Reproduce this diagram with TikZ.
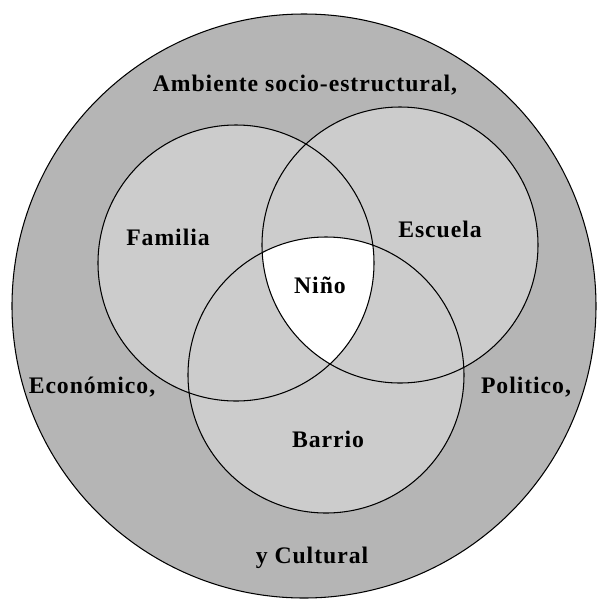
\documentclass[tikz,border=0pt]{standalone}
\usepackage{fontspec}
\setmainfont{Liberation Serif}[LetterSpace=4]
\usepackage{tikz}
\usetikzlibrary{positioning}
\definecolor{anillo}{gray}{0.71}
\definecolor{esfera}{gray}{0.80}

\begin{document}
\begin{tikzpicture}[x=0.02cm, y=-0.02cm,
  etiqueta/.style={font=\bfseries\fontsize{13.5}{16}\selectfont, inner sep=0pt},
  borde/.style={line width=0.6pt}]

\def\r{138}  % radius of the three inner circles

\useasboundingbox (0,0) rectangle (598,603);

% outer circle
\draw[borde, fill=anillo] (304,306) circle (292);

% fill the three circles
\fill[esfera] (236,263) circle (\r);
\fill[esfera] (400,245) circle (\r);
\fill[esfera] (326,375) circle (\r);

% common part in white
\begin{scope}
  \clip (236,263) circle (\r);
  \clip (400,245) circle (\r);
  \fill[white] (326,375) circle (\r);
\end{scope}

% outlines
\draw[borde] (236,263) circle (\r);
\draw[borde] (400,245) circle (\r);
\draw[borde] (326,375) circle (\r);

% labels
\node[etiqueta] (ambiente) at (305,85) {Ambiente socio-estructural,};
\node[etiqueta] (familia) at (168,237) {Familia};
\node[etiqueta] (escuela) at (440,229) {Escuela};
\node[etiqueta] (nino) at (320,285) {Niño};
\node[etiqueta] (economico) at (92,387) {Económico,};
\node[etiqueta] (politico) at (526,387) {Politico,};
\node[etiqueta] (barrio) at (328,439) {Barrio};
\node[etiqueta] (cultural) at (312,558) {y Cultural};

\end{tikzpicture}
\end{document}
